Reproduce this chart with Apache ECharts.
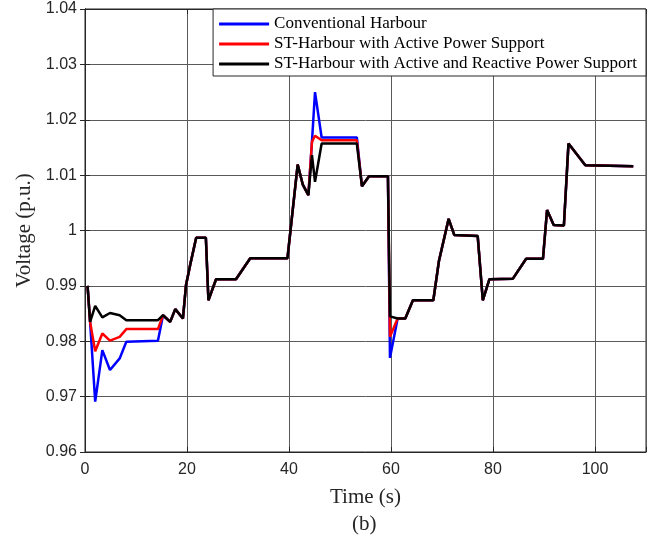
<!DOCTYPE html>
<html>
<head>
<meta charset="UTF-8">
<title>Voltage (b)</title>
<style>
  * { margin: 0; padding: 0; }
  body { background: #ffffff; }
  #chart { width: 655px; height: 539px; }
</style>
</head>
<body>
<div id="chart"></div>
<script src="https://cdn.jsdelivr.net/npm/echarts@6/dist/echarts.min.js"></script>
<script>
// time stamps (s), shared by the three curves
var timeS = [0.5, 1.0, 2.0, 3.4, 4.9, 6.8, 8.1, 14.3, 15.3, 16.7, 17.7, 19.2, 19.8, 20.6, 21.8, 23.7,
  24.2, 25.7, 29.6, 32.4, 39.7, 41.7, 42.7, 43.8, 44.5, 45.1, 46.4, 53.3, 54.3, 55.7, 59.4, 59.8,
  61.3, 62.8, 64.3, 68.3, 69.4, 71.3, 72.4, 77.0, 78.0, 79.3, 83.9, 86.5, 89.8, 90.6, 91.9, 93.9,
  94.8, 98.1, 107.5];

// voltage (p.u.)
var vConventional = [0.9900, 0.9835, 0.9691, 0.9784, 0.9748, 0.9769, 0.9799, 0.9801, 0.9847, 0.9835, 0.9858, 0.9841, 0.9901, 0.9937, 0.9987, 0.9987,
  0.9874, 0.9912, 0.9912, 0.9950, 0.9950, 1.0119, 1.0083, 1.0064, 1.0160, 1.0250, 1.0168, 1.0168, 1.0080, 1.0098, 1.0098, 0.9770,
  0.9841, 0.9841, 0.9874, 0.9874, 0.9945, 1.0021, 0.9992, 0.9990, 0.9874, 0.9912, 0.9913, 0.9949, 0.9949, 1.0037, 1.0010, 1.0009,
  1.0157, 1.0118, 1.0116];
var vActive = [0.9900, 0.9835, 0.9782, 0.9814, 0.9801, 0.9808, 0.9822, 0.9822, 0.9847, 0.9835, 0.9858, 0.9841, 0.9901, 0.9937, 0.9987, 0.9987,
  0.9874, 0.9912, 0.9912, 0.9950, 0.9950, 1.0119, 1.0083, 1.0064, 1.0160, 1.0171, 1.0163, 1.0163, 1.0080, 1.0098, 1.0098, 0.9808,
  0.9841, 0.9841, 0.9874, 0.9874, 0.9945, 1.0021, 0.9992, 0.9990, 0.9874, 0.9912, 0.9913, 0.9949, 0.9949, 1.0037, 1.0010, 1.0009,
  1.0157, 1.0118, 1.0116];
var vActiveReactive = [0.9900, 0.9835, 0.9864, 0.9843, 0.9851, 0.9847, 0.9838, 0.9838, 0.9847, 0.9835, 0.9858, 0.9841, 0.9901, 0.9937, 0.9987, 0.9987,
  0.9874, 0.9912, 0.9912, 0.9950, 0.9950, 1.0119, 1.0083, 1.0064, 1.0136, 1.0088, 1.0157, 1.0157, 1.0080, 1.0098, 1.0098, 0.9845,
  0.9841, 0.9841, 0.9874, 0.9874, 0.9945, 1.0021, 0.9992, 0.9990, 0.9874, 0.9912, 0.9913, 0.9949, 0.9949, 1.0037, 1.0010, 1.0009,
  1.0157, 1.0118, 1.0116];

var seriesNames = ['Conventional Harbour', 'ST-Harbour with Active Power Support', 'ST-Harbour with Active and Reactive Power Support'];
var seriesColors = ['#0000ff', '#ff0000', '#000000'];
var seriesValues = [vConventional, vActive, vActiveReactive];

function pairs(vals) {
  var out = [];
  for (var i = 0; i < timeS.length; i++) out.push([timeS[i], vals[i]]);
  return out;
}

var serif = '"Liberation Serif", "Times New Roman", serif';
var sans = '"Liberation Sans", Arial, sans-serif';
var gridColor = '#5a5a5a';

var mychart = echarts.init(document.getElementById('chart'));

var series = [];
for (var k = 0; k < 3; k++) {
  series.push({
    name: seriesNames[k],
    type: 'line',
    symbol: 'none',
    data: pairs(seriesValues[k]),
    lineStyle: { color: seriesColors[k], width: 2.5 },
    itemStyle: { color: seriesColors[k] },
    z: 3 + k
  });
}

var option = {
  animation: false,
  backgroundColor: '#ffffff',
  grid: {
    left: 85, right: 9, top: 9, bottom: 87,
    show: true, borderColor: '#262626', borderWidth: 1
  },
  legend: {
    data: seriesNames,
    orient: 'vertical',
    right: 9, top: 9,
    align: 'left',
    icon: 'rect',
    itemWidth: 50, itemHeight: 3,
    itemGap: 0,
    padding: [5, 9, 2, 6],
    backgroundColor: '#ffffff',
    borderColor: '#262626', borderWidth: 1, borderRadius: 0,
    textStyle: { fontFamily: serif, fontSize: 17, lineHeight: 20, color: '#000000' },
    z: 10
  },
  xAxis: [{
    type: 'value',
    min: 0, max: 110, interval: 20,
    name: 'Time (s)',
    nameLocation: 'middle',
    nameGap: 35,
    nameTextStyle: { fontFamily: serif, fontSize: 21, color: '#262626' },
    axisLine: { show: true, lineStyle: { color: '#262626', width: 1 } },
    axisTick: { show: true, inside: true, length: 5, lineStyle: { color: '#262626' } },
    axisLabel: {
      fontFamily: sans, fontSize: 16, color: '#262626', margin: 10,
      formatter: function (v) { return v > 100 ? '' : String(v); }
    },
    splitLine: { show: true, lineStyle: { color: gridColor, width: 1 } }
  }, {
    type: 'value', position: 'top',
    min: 0, max: 110, interval: 20,
    axisLine: { show: true, lineStyle: { color: '#262626' } },
    axisTick: { show: true, inside: true, length: 5, lineStyle: { color: '#262626' } },
    axisLabel: { show: false },
    splitLine: { show: false }
  }],
  yAxis: [{
    type: 'value',
    min: 0.96, max: 1.04, interval: 0.01,
    name: 'Voltage (p.u.)',
    nameLocation: 'middle',
    nameGap: 47,
    nameTextStyle: { fontFamily: serif, fontSize: 21, color: '#262626' },
    axisLine: { show: true, lineStyle: { color: '#262626', width: 1 } },
    axisTick: { show: true, inside: true, length: 5, lineStyle: { color: '#262626' } },
    axisLabel: { fontFamily: sans, fontSize: 16, color: '#262626', margin: 8 },
    splitLine: { show: true, lineStyle: { color: gridColor, width: 1 } }
  }, {
    type: 'value', position: 'right',
    min: 0.96, max: 1.04, interval: 0.01,
    axisLine: { show: true, lineStyle: { color: '#262626' } },
    axisTick: { show: true, inside: true, length: 5, lineStyle: { color: '#262626' } },
    axisLabel: { show: false },
    splitLine: { show: false }
  }],
  graphic: [{
    type: 'text',
    left: 352, top: 514,
    style: { text: '(b)', font: '21px ' + serif, fill: '#262626' }
  }],
  series: series
};

mychart.setOption(option);
</script>
</body>
</html>
